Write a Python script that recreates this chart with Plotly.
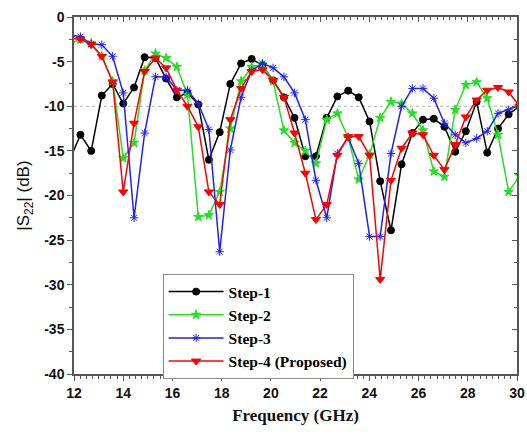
import plotly.graph_objects as go

freq = [11.83, 12.26, 12.70, 13.13, 13.57, 14.00, 14.44, 14.87, 15.31, 15.74,
        16.18, 16.61, 17.05, 17.48, 17.92, 18.35, 18.79, 19.22, 19.66, 20.09,
        20.53, 20.96, 21.40, 21.83, 22.27, 22.70, 23.14, 23.57, 24.01, 24.44,
        24.88, 25.31, 25.75, 26.18, 26.62, 27.05, 27.49, 27.92, 28.36, 28.79,
        29.23, 29.66, 30.10]

step1 = [-16.0, -13.2, -15.0, -8.8, -7.5, -9.7, -7.9, -4.5, -4.6, -6.9,
         -9.0, -8.5, -9.8, -16.0, -12.9, -7.5, -5.2, -4.7, -5.4, -7.1,
         -9.0, -11.3, -15.6, -15.6, -11.3, -8.9, -8.25, -9.0, -11.7, -18.4,
         -23.9, -16.5, -13.0, -11.5, -11.4, -12.3, -15.1, -12.8, -9.5, -15.2,
         -12.5, -10.9, -10.0]

step2 = [-3.0, -2.5, -2.95, -4.4, -7.2, -15.8, -14.1, -6.0, -4.1, -4.6,
         -5.6, -8.7, -22.4, -22.2, -19.6, -12.5, -7.2, -5.6, -5.3, -7.2,
         -12.7, -14.1, -15.0, -16.4, -11.5, -10.8, -13.5, -18.2, -15.4, -11.3,
         -9.5, -9.7, -10.8, -12.7, -17.3, -17.9, -10.4, -7.6, -7.3, -9.1,
         -13.2, -19.6, -17.8]

step3 = [-2.0, -2.2, -3.0, -3.1, -4.4, -8.5, -22.5, -13.0, -6.7, -6.7,
         -8.2, -8.2, -9.7, -12.6, -26.3, -14.9, -9.0, -6.0, -5.2, -5.7,
         -6.7, -8.5, -11.5, -18.3, -22.5, -15.3, -13.5, -16.4, -24.6, -24.6,
         -15.3, -10.0, -8.0, -8.0, -9.1, -11.9, -13.2, -14.1, -13.6, -12.8,
         -10.8, -10.4, -9.9]

step4 = [-2.4, -2.5, -3.1, -4.4, -7.3, -19.6, -11.9, -6.1, -4.6, -5.7,
         -8.2, -10.0, -12.3, -19.6, -21.0, -11.5, -8.0, -6.1, -5.9, -7.1,
         -9.0, -13.0, -17.5, -22.7, -21.0, -15.5, -13.4, -13.4, -15.5, -29.4,
         -18.3, -14.7, -13.0, -13.2, -15.5, -17.1, -14.3, -11.2, -9.3, -8.2,
         -7.9, -8.4, -10.0]

names = ["Step-1", "Step-2", "Step-3", "Step-4 (Proposed)"]
x_ticks = [12, 14, 16, 18, 20, 22, 24, 26, 28, 30]
y_ticks = [0, -5, -10, -15, -20, -25, -30, -35, -40]
ref_level = -10

fig = go.Figure()
styles = [
    dict(color="#000000", symbol="circle", size=7),
    dict(color="#22e022", symbol="star", size=7),
    dict(color="#1f1fff", symbol="asterisk-open", size=7),
    dict(color="#ff0000", symbol="triangle-down", size=8),
]
for name, ys, st in zip(names, [step1, step2, step3, step4], styles):
    fig.add_trace(go.Scatter(
        x=freq, y=ys, name=name, mode="lines+markers",
        line=dict(color=st["color"], width=1.5),
        marker=dict(symbol=st["symbol"], size=st["size"], color=st["color"],
                    line=dict(color=st["color"], width=1)),
    ))

# empty helper trace for mirrored (top/right) axes with inward ticks
fig.add_trace(go.Scatter(x=[], y=[], xaxis="x2", yaxis="y2", showlegend=False))

fig.add_shape(type="line", xref="paper", x0=0, x1=1, yref="y", y0=ref_level, y1=ref_level,
              line=dict(color="#b0b0b0", width=1, dash="dot"), layer="below")

axis_color = "#555555"
tickfont = dict(family="Liberation Sans, Arial", size=14, color="#111111", weight="bold")

fig.update_layout(
    width=527, height=434,
    margin=dict(l=74, r=10, t=17, b=60, autoexpand=False),
    plot_bgcolor="white", paper_bgcolor="white",
    showlegend=True,
    legend=dict(
        x=0.2, y=0.28, xanchor="left", yanchor="top",
        bgcolor="white", bordercolor="#888888", borderwidth=1,
        font=dict(family="Liberation Serif, Times New Roman", size=15.5, color="#000000", weight="bold"),
        tracegroupgap=0, itemwidth=55,
    ),
    xaxis=dict(
        range=[12, 30], tickvals=x_ticks, ticktext=[str(v) for v in x_ticks],
        ticks="outside", ticklen=5, tickwidth=1.2, tickcolor=axis_color,
        showline=True, linecolor=axis_color, linewidth=1.5, automargin=False,
        showgrid=False, zeroline=False, tickfont=tickfont,
        minor=dict(dtick=0.25, tick0=12, ticks="outside", ticklen=3, tickcolor=axis_color, showgrid=False),
        title=dict(text="Frequency (GHz)", standoff=10,
                   font=dict(family="Liberation Serif, Times New Roman", size=17, color="#111111", weight="bold")),
    ),
    yaxis=dict(
        range=[-40, 0], tickvals=y_ticks, ticktext=[str(v) for v in y_ticks],
        ticks="outside", ticklen=5, tickwidth=1.2, tickcolor=axis_color,
        showline=True, linecolor=axis_color, linewidth=1.5, automargin=False,
        showgrid=False, zeroline=False, tickfont=tickfont,
        minor=dict(dtick=2.5, tick0=0, ticks="outside", ticklen=3, tickcolor=axis_color, showgrid=False),
        title=dict(text="|S<sub>22</sub>| (dB)", standoff=10,
                   font=dict(family="Liberation Sans, Arial", size=17, color="#111111")),
    ),
    xaxis2=dict(
        overlaying="x", side="top", range=[12, 30], tickvals=x_ticks, automargin=False,
        showticklabels=False, ticks="inside", ticklen=5, tickwidth=1.2, tickcolor=axis_color,
        showline=True, linecolor=axis_color, linewidth=1.5, showgrid=False, zeroline=False,
        minor=dict(dtick=0.25, tick0=12, ticks="inside", ticklen=3, tickcolor=axis_color, showgrid=False),
    ),
    yaxis2=dict(
        overlaying="y", side="right", range=[-40, 0], tickvals=y_ticks, automargin=False,
        showticklabels=False, ticks="inside", ticklen=5, tickwidth=1.2, tickcolor=axis_color,
        showline=True, linecolor=axis_color, linewidth=1.5, showgrid=False, zeroline=False,
        minor=dict(dtick=2.5, tick0=0, ticks="inside", ticklen=3, tickcolor=axis_color, showgrid=False),
    ),
)

fig.write_html("out.html", config={"displayModeBar": False},
               post_script="document.body.style.margin='0px';")
